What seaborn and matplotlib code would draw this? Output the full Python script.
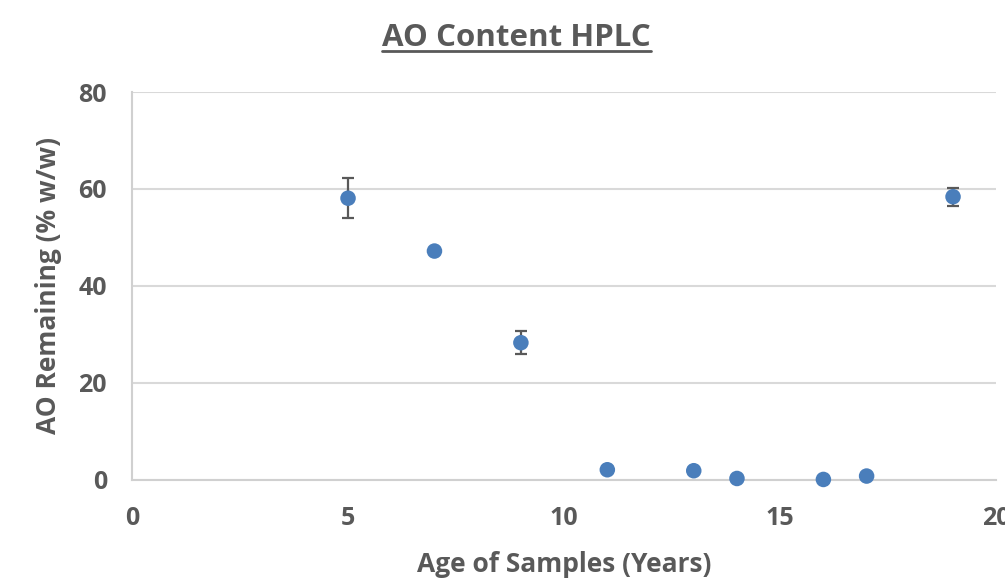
import numpy as np
import pandas as pd
import matplotlib.pyplot as plt
import seaborn as sns
from matplotlib.lines import Line2D

# values
ages = [5, 7, 9, 11, 13, 14, 16, 17, 19]
ao_remaining = [58.1, 47.2, 28.3, 2.1, 1.9, 0.3, 0.1, 0.8, 58.4]
ao_error = [4.1, 0.0, 2.4, 0.0, 0.0, 0.0, 0.0, 0.0, 1.9]

df = pd.DataFrame({'Age': ages, 'AO': ao_remaining, 'Err': ao_error})

sns.set_style('white')
plt.rcParams['font.family'] = ['Open Sans', 'DejaVu Sans']
plt.rcParams['font.weight'] = 'bold'

grey = '#595959'
blue = '#4a7ebb'

fig = plt.figure(figsize=(10.05, 5.86), dpi=100)
ax = fig.add_axes([0.1313, 0.181, 0.86, 0.662])

# error bars only where there is a spread
has_err = df[df['Err'] > 0]
ax.errorbar(has_err['Age'], has_err['AO'], yerr=has_err['Err'], fmt='none',
            ecolor=grey, elinewidth=1.6, capsize=4.5, capthick=1.6, zorder=2)

sns.scatterplot(data=df, x='Age', y='AO', ax=ax, s=125, color=blue,
                edgecolor='none', zorder=3, clip_on=False)

ax.set_xlim(0, 20)
ax.set_ylim(0, 80)
ax.set_xticks([0, 5, 10, 15, 20])
ax.set_yticks([0, 20, 40, 60, 80])
ax.yaxis.grid(True, color='#d9d9d9', linewidth=1.5)
ax.set_axisbelow(True)
for side in ['top', 'right']:
    ax.spines[side].set_visible(False)
for side in ['left', 'bottom']:
    ax.spines[side].set_color('#d0d0d0')
    ax.spines[side].set_linewidth(1.5)
ax.tick_params(length=0, labelsize=18, labelcolor=grey)
ax.tick_params(axis='x', pad=19)
ax.tick_params(axis='y', pad=18)
for lbl in ax.get_xticklabels() + ax.get_yticklabels():
    lbl.set_fontweight('bold')

ax.set_xlabel('Age of Samples (Years)', fontsize=19, color=grey,
              fontweight='bold', labelpad=14)
ax.set_ylabel('AO Remaining (% w/w)', fontsize=19, color=grey,
              fontweight='bold', labelpad=12)

# underlined title
title = fig.text(0.514, 0.936, 'AO Content HPLC', ha='center', va='center',
                 fontsize=22.5, color=grey, fontweight='bold')
fig.canvas.draw()
bb = title.get_window_extent().transformed(fig.transFigure.inverted())
fig.add_artist(Line2D([bb.x0, bb.x1], [bb.y0 + 0.002, bb.y0 + 0.002],
                      transform=fig.transFigure, color=grey, linewidth=2))

fig.savefig('out.png', dpi=100, facecolor='white')
